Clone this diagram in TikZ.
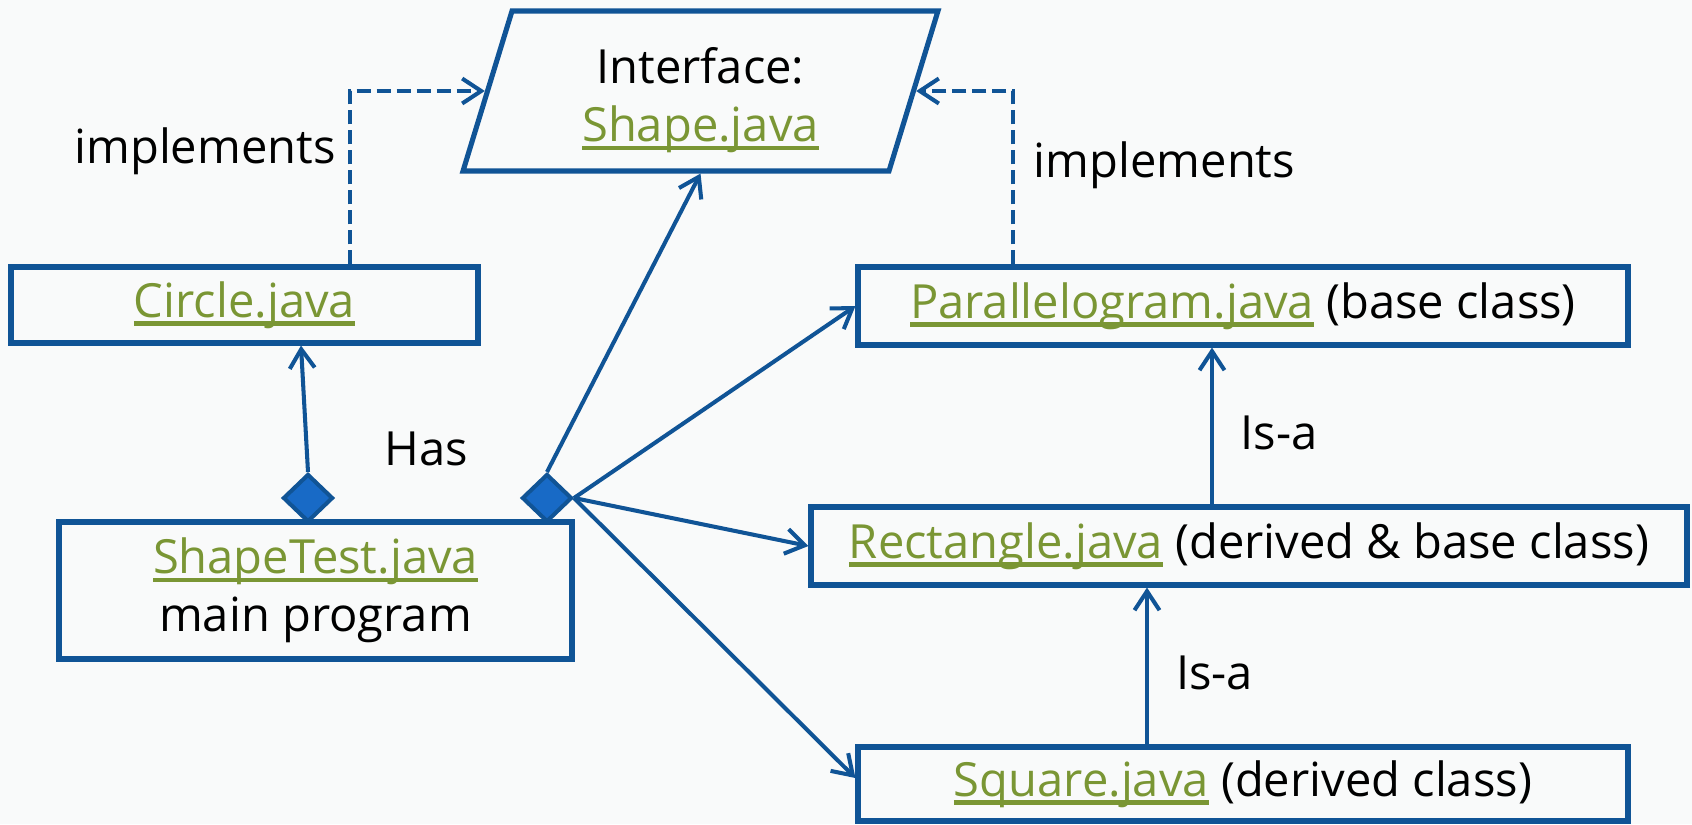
\documentclass[tikz,border=0pt]{standalone}
\usepackage{fontspec}
\setmainfont{Open Sans}
\usetikzlibrary{shapes.geometric,arrows.meta}
\definecolor{umlblue}{RGB}{16,84,150}
\definecolor{dmdblue}{RGB}{24,106,198}
\definecolor{jgreen}{RGB}{122,150,52}
\definecolor{bgpaper}{RGB}{249,250,250}
% green underlined file name, the rule runs through the descenders
\newcommand{\jfile}[1]{{\color{jgreen}\sbox0{#1}\rlap{\rule[-2.4pt]{\wd0}{1.2pt}}\box0}}
\tikzset{
  cls/.style={draw=umlblue, line width=1.45pt, rectangle, inner sep=0pt, align=center},
  rel/.style={umlblue, line width=1.15pt, -{Straight Barb[length=1.9mm,width=2.5mm]}},
  impl/.style={rel, dash pattern=on 1.4mm off 0.6mm},
  hasdia/.style={diamond, draw=umlblue, fill=dmdblue, line width=1.15pt, minimum width=5mm, minimum height=4.8mm, inner sep=0pt},
  lbl/.style={anchor=base, inner sep=0pt},
}
\begin{document}
\begin{tikzpicture}[x=0.1mm, y=-0.1mm, font=\fontsize{13.4}{16.5}\selectfont]
	\fill[bgpaper] (0,0) rectangle (1692,824);
	\useasboundingbox (0,0) rectangle (1692,824);
	% classes
	\node[cls, trapezium, trapezium left angle=76, trapezium right angle=104, trapezium stretches=true,
	      minimum width=47.9mm, minimum height=16mm] (iface) at (700.5,91)
	      {\raisebox{0pt}[\dimexpr\height+1.8mm\relax]{Interface:}\\\jfile{Shape.java}};
	\node[cls, minimum width=46.7mm, minimum height=7.6mm] (circle) at (244.5,305) {\jfile{Circle.java}};
	\node[cls, minimum width=51.3mm, minimum height=13.7mm] (shapetest) at (315.5,590.5) {\jfile{ShapeTest.java}\\main program};
	\node[cls, minimum width=77mm, minimum height=7.8mm] (para) at (1243,306) {\jfile{Parallelogram.java} (base class)};
	\node[cls, minimum width=87.6mm, minimum height=7.8mm] (rect) at (1249,546) {\jfile{Rectangle.java} (derived \& base class)};
	\node[cls, minimum width=77mm, minimum height=7.4mm] (square) at (1243,784) {\jfile{Square.java} (derived class)};
	% composition diamonds
	\node[hasdia] (dl) at (308,498) {};
	\node[hasdia] (dr) at (547,498) {};
	% relations
	\draw[impl] ([xshift=10.55mm]circle.north) |- (iface);
	\draw[impl] ([xshift=-23mm]para.north) |- (iface);
	\draw[rel] (dl.north) -- ([xshift=5.65mm]circle.south);
	\draw[rel] (dr.north) -- (iface.south);
	\draw[rel] (dr.east) -- (para.west);
	\draw[rel] (dr.east) -- (rect.west);
	\draw[rel] (dr.east) -- ([yshift=0.6mm]square.west);
	\draw[rel] ([xshift=-3.7mm]rect.north) -- ([xshift=-3.7mm]rect.north |- para.south);
	\draw[rel] ([xshift=-9.6mm]square.north) -- ([xshift=-9.6mm]square.north |- rect.south);
	% labels
	\node[lbl] (implL) at (205,163) {implements};
	\node[lbl] (implR) at (1164.5,177) {implements};
	\node[lbl] (has) at (426.5,465) {Has};
	\node[lbl] (isa1) at (1279,449) {Is-a};
	\node[lbl] (isa2) at (1214.5,689) {Is-a};
\end{tikzpicture}
\end{document}
